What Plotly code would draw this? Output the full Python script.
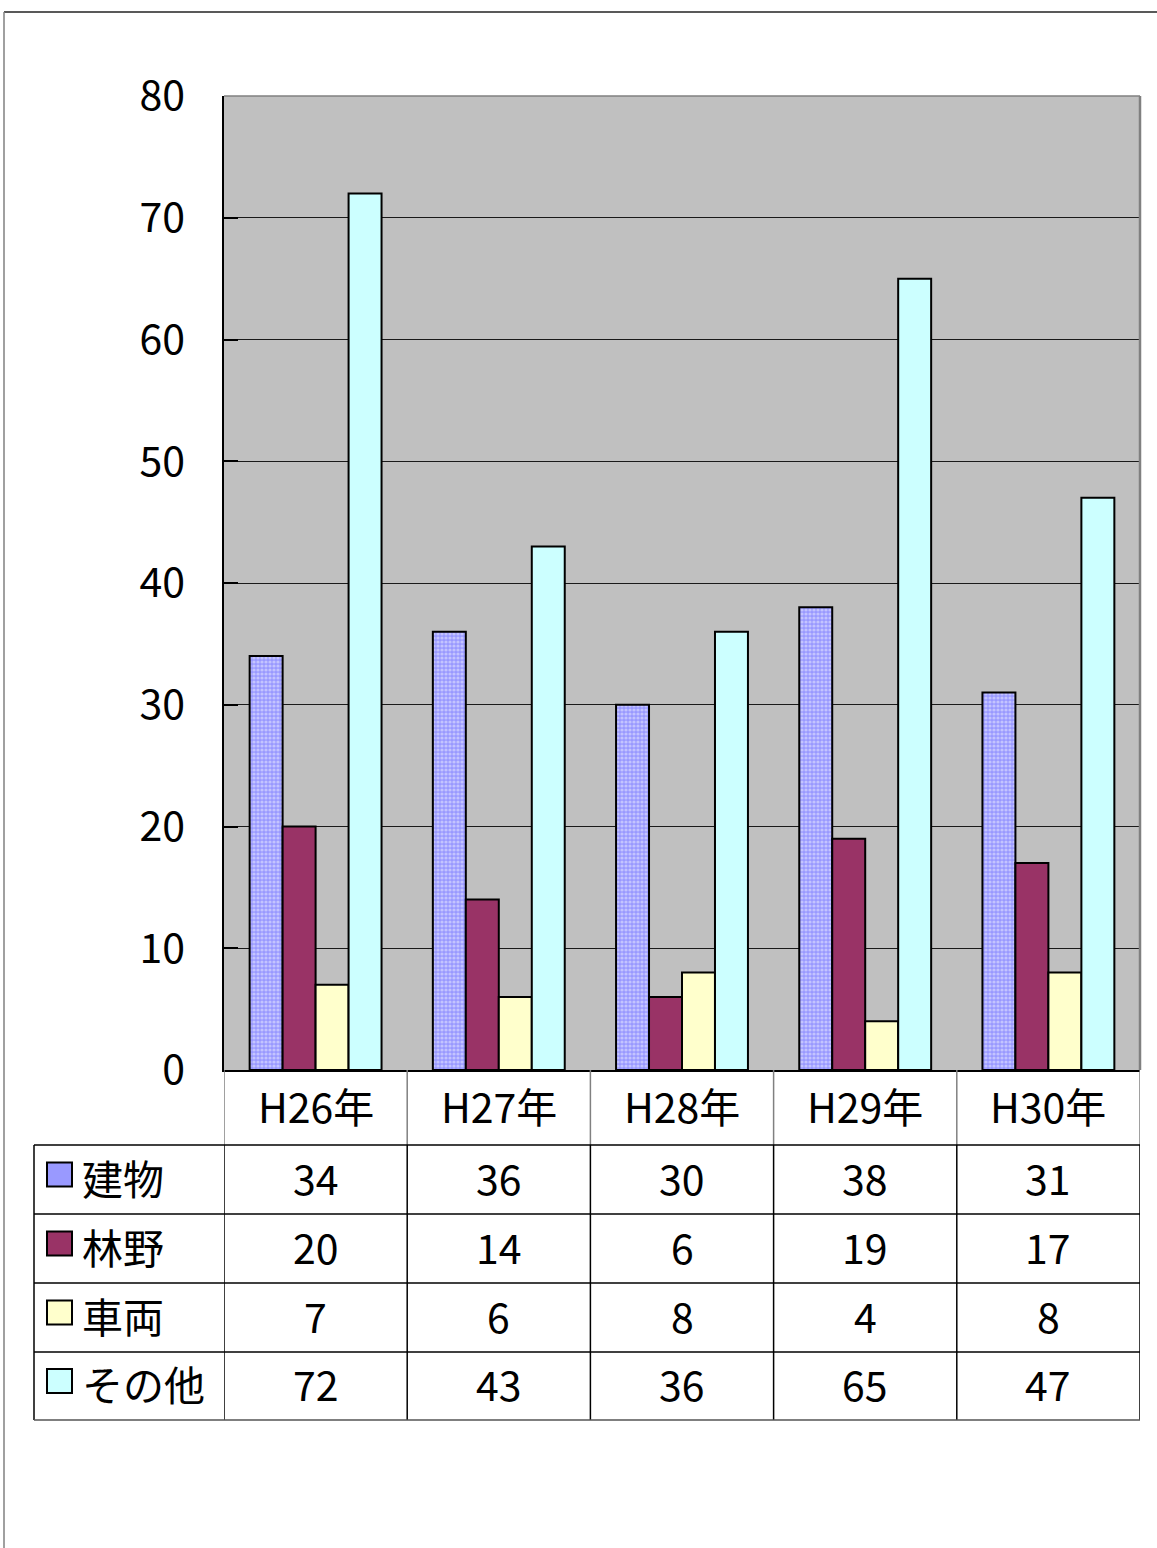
import plotly.graph_objects as go

categories = ["H26年", "H27年", "H28年", "H29年", "H30年"]
series_names = ["建物", "林野", "車両", "その他"]
tatemono = [34, 36, 30, 38, 31]
rinya = [20, 14, 6, 19, 17]
sharyo = [7, 6, 8, 4, 8]
sonota = [72, 43, 36, 65, 47]
series_values = [tatemono, rinya, sharyo, sonota]
colors = ["#9999FF", "#993366", "#FFFFCC", "#CCFFFF"]
y_ticks = [0, 10, 20, 30, 40, 50, 60, 70, 80]

# page geometry (page pixel coords); body margin is removed by post_script
PAGE_W, PAGE_H = 1157, 1548
L, R, T, B = 224, 1140, 96, 1070
PW, PH = R - L, B - T
W, H = PAGE_W, PAGE_H
FONT = "Noto Sans CJK JP, Noto Sans, sans-serif"
FS = 41
DY = 3  # text vertical nudge (up)


def px(x):
    return (x - L) / PW


def py(y):
    return (B - y) / PH


fig = go.Figure()
for i, (name, vals, col) in enumerate(zip(series_names, series_values, colors)):
    marker = dict(color=col, line=dict(color="black", width=2))
    if i == 0:
        marker["pattern"] = dict(shape=".", fgcolor="#C4C4FF", bgcolor=col,
                                 size=4, solidity=0.5, fillmode="replace")
    fig.add_trace(go.Bar(x=categories, y=vals, name=name, marker=marker,
                         showlegend=False))

shapes = []
annotations = []

# plot area border (top & right gray)
shapes.append(dict(type="line", xref="paper", yref="paper", x0=0, x1=1, y0=1, y1=1,
                   line=dict(color="#808080", width=1.5)))
shapes.append(dict(type="line", xref="paper", yref="paper", x0=1, x1=1, y0=0, y1=1,
                   line=dict(color="#808080", width=2.5)))

# outer frame
shapes.append(dict(type="line", xref="paper", yref="paper", x0=px(4), x1=px(1175),
                   y0=py(12), y1=py(12), line=dict(color="#222222", width=1.5)))
shapes.append(dict(type="line", xref="paper", yref="paper", x0=px(4), x1=px(4),
                   y0=py(12), y1=py(1570), line=dict(color="#808080", width=1.5)))

# table geometry
header_top, header_bot = B, 1145
row_edges = [1145, 1214, 1283, 1352, 1420]
label_left = 34
n = len(categories)

# header vertical lines (gray)
for i in range(n + 1):
    shapes.append(dict(type="line", xref="x", yref="paper", x0=i - 0.5, x1=i - 0.5,
                       y0=py(header_top), y1=py(header_bot),
                       line=dict(color="#808080", width=1.5)))
# body vertical lines
for i in range(n + 1):
    shapes.append(dict(type="line", xref="x", yref="paper", x0=i - 0.5, x1=i - 0.5,
                       y0=py(row_edges[0]), y1=py(row_edges[-1]),
                       line=dict(color="black", width=1.5)))
shapes.append(dict(type="line", xref="paper", yref="paper", x0=px(label_left), x1=px(label_left),
                   y0=py(row_edges[0]), y1=py(row_edges[-1]),
                   line=dict(color="black", width=1.5)))
# horizontal lines
for k, ye in enumerate(row_edges):
    shapes.append(dict(type="line", xref="paper", yref="paper", x0=px(label_left), x1=1,
                       y0=py(ye), y1=py(ye),
                       line=dict(color="#555555" if k == len(row_edges) - 1 else "black", width=1.5)))

# header labels
for c in categories:
    annotations.append(dict(x=c, xref="x", y=py((header_top + header_bot) / 2 - DY), yref="paper",
                            text=c, showarrow=False, xanchor="center", yanchor="middle",
                            font=dict(family=FONT, size=FS, color="black")))

# rows
for r, (name, vals, col) in enumerate(zip(series_names, series_values, colors)):
    yc = (row_edges[r] + row_edges[r + 1]) / 2
    # legend key
    kc = yc - 5
    shapes.append(dict(type="rect", xref="paper", yref="paper",
                       x0=px(47), x1=px(72), y0=py(kc + 12), y1=py(kc - 12),
                       fillcolor=col, line=dict(color="black", width=2)))
    annotations.append(dict(x=px(80), xref="paper", y=py(yc - DY), yref="paper",
                            text=name, showarrow=False, xanchor="left", yanchor="middle",
                            font=dict(family=FONT, size=FS, color="black")))
    for c, v in zip(categories, vals):
        annotations.append(dict(x=c, xref="x", y=py(yc - DY), yref="paper",
                                text=str(v), showarrow=False, xanchor="center", yanchor="middle",
                                font=dict(family=FONT, size=FS, color="black")))

fig.update_layout(
    width=W, height=H,
    margin=dict(l=L, r=PAGE_W - R, t=T, b=PAGE_H - B, pad=0),
    paper_bgcolor="white",
    plot_bgcolor="#C0C0C0",
    barmode="group",
    bargap=0.28,
    bargroupgap=0,
    shapes=shapes,
    annotations=annotations,
    font=dict(family=FONT, size=FS, color="black"),
    xaxis=dict(type="category", range=[-0.5, n - 0.5], showticklabels=False,
               showgrid=False, zeroline=False, showline=True, linecolor="black",
               linewidth=2, ticks=""),
    yaxis=dict(range=[0, 80], tickvals=y_ticks, showgrid=True, gridcolor="#1a1a1a",
               gridwidth=1, zeroline=False, showline=True, linecolor="black", linewidth=1.5,
               ticks="inside", ticklen=14, tickcolor="black", tickwidth=1.5,
               ticklabelstandoff=29,
               tickfont=dict(family=FONT, size=FS, color="black")),
)

fig.write_html("out.html", config={"displayModeBar": False},
               post_script="document.body.style.margin='0';document.body.style.padding='0';")
